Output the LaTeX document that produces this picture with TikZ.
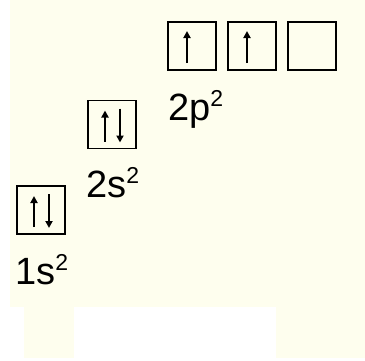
\documentclass[tikz,border=0pt]{standalone}
\usepackage{fontspec}
\setmainfont{Liberation Sans}
\usetikzlibrary{arrows.meta}
\definecolor{cream}{RGB}{254,254,238}
\newcommand{\orb}[2]{\fontsize{38}{38}\selectfont #1\raisebox{14pt}{\fontsize{23}{23}\selectfont #2}}
\tikzset{
  orbbox/.style={draw=black, line width=1.6pt, minimum size=48pt, inner sep=0pt, fill=none},
  spin/.style={line width=2pt, -{Triangle[width=7pt,length=7pt]}},
  lbl/.style={anchor=base west, inner sep=0pt}
}
\begin{document}
\begin{tikzpicture}[x=1pt,y=1pt]
\useasboundingbox (0,0) rectangle (365,360);
\fill[white] (0,0) rectangle (365,360);
\fill[cream] (10,53) rectangle (365,360);
\fill[cream] (24,2) rectangle (74,53);
\fill[cream] (276,2) rectangle (365,53);
% boxes
\node[orbbox] (p1) at (192,314) {};
\node[orbbox] (p2) at (252,314) {};
\node[orbbox] (p3) at (312,314) {};
\node[orbbox] (s2) at (112,235.5) {};
\node[orbbox] (s1) at (41,150) {};
% arrows
\draw[spin] ([xshift=-5pt,yshift=-17pt]p1.center) -- ([xshift=-5pt,yshift=15pt]p1.center);
\draw[spin] ([xshift=-5pt,yshift=-17pt]p2.center) -- ([xshift=-5pt,yshift=15pt]p2.center);
\draw[spin] ([xshift=-7pt,yshift=-17pt]s2.center) -- ([xshift=-7pt,yshift=14pt]s2.center);
\draw[spin] ([xshift=8pt,yshift=16pt]s2.center) -- ([xshift=8pt,yshift=-18pt]s2.center);
\draw[spin] ([xshift=-7pt,yshift=-17pt]s1.center) -- ([xshift=-7pt,yshift=14pt]s1.center);
\draw[spin] ([xshift=8pt,yshift=16pt]s1.center) -- ([xshift=8pt,yshift=-18pt]s1.center);
% labels
\node[lbl] (l2p) at (168,240) {\orb{2p}{2}};
\node[lbl] (l2s) at (86,163) {\orb{2s}{2}};
\node[lbl] (l1s) at (15,76) {\orb{1s}{2}};
\end{tikzpicture}
\end{document}
